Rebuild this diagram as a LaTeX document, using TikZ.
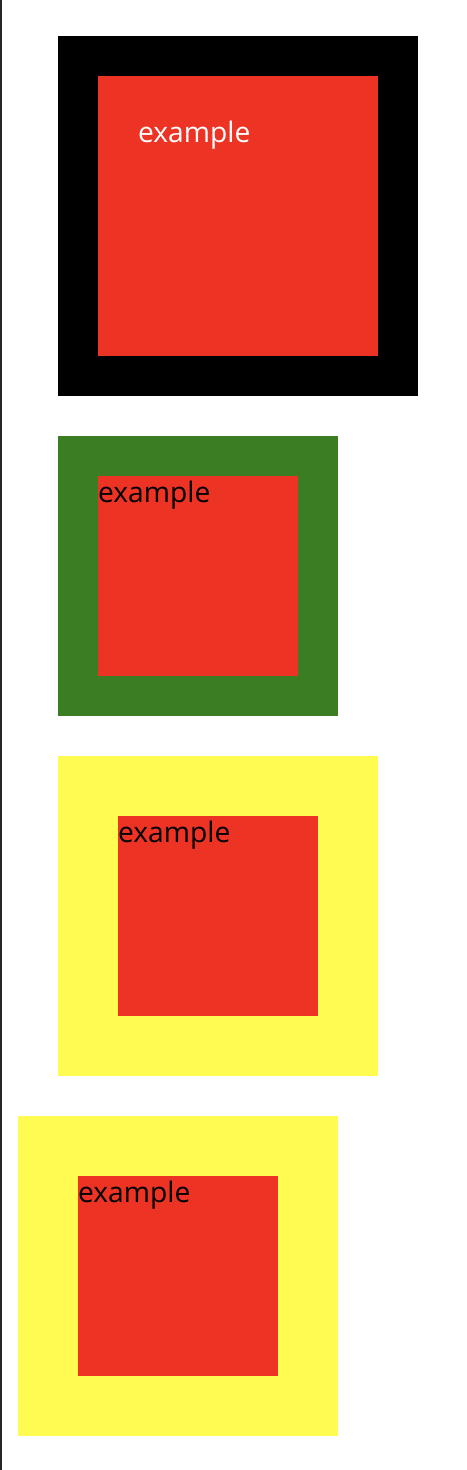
\documentclass[tikz,border=0pt]{standalone}
\usepackage{fontspec}
\setmainfont{Open Sans}
\usepackage{xcolor}

\definecolor{boxred}{RGB}{237,51,36}
\definecolor{boxgreen}{RGB}{58,125,35}
\definecolor{boxyellow}{RGB}{255,251,80}

\tikzset{
    square/.style={shape=rectangle,draw=none,anchor=north west,inner sep=0pt,outer sep=0pt},
    label/.style={anchor=base west,inner sep=0pt,font=\fontsize{28.2}{32}\selectfont}
}

\begin{document}
\begin{tikzpicture}[x=1pt,y=-1pt]
    \useasboundingbox (0,0) rectangle (466,1470);
    \coordinate (top) at (1,0);
    \coordinate (bottom) at (1,1470);
    \draw[line width=1.5pt,black!85] (top) -- (bottom);

    % first frame
    \node[square,fill=black,minimum width=360pt,minimum height=360pt] (frameA) at (58,36) {};
    \node[square,fill=boxred,minimum width=280pt,minimum height=280pt] (boxA) at (98,76) {};
    \node[label,text=white] (textA) at (138,142) {example};

    % second frame
    \node[square,fill=boxgreen,minimum width=280pt,minimum height=280pt] (frameB) at (58,436) {};
    \node[square,fill=boxred,minimum width=200pt,minimum height=200pt] (boxB) at (98,476) {};
    \node[label,text=black] (textB) at (98,502) {example};

    % third frame
    \node[square,fill=boxyellow,minimum width=320pt,minimum height=320pt] (frameC) at (58,756) {};
    \node[square,fill=boxred,minimum width=200pt,minimum height=200pt] (boxC) at (118,816) {};
    \node[label,text=black] (textC) at (118,842) {example};

    % fourth frame
    \node[square,fill=boxyellow,minimum width=320pt,minimum height=320pt] (frameD) at (18,1116) {};
    \node[square,fill=boxred,minimum width=200pt,minimum height=200pt] (boxD) at (78,1176) {};
    \node[label,text=black] (textD) at (78,1202) {example};
\end{tikzpicture}
\end{document}
